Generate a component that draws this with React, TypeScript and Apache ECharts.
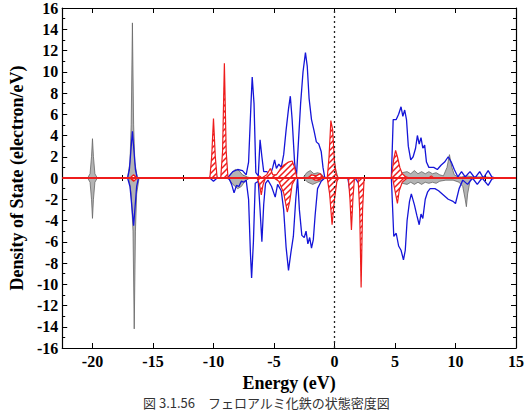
import React, { useEffect, useRef } from "react";
import * as echarts from "echarts";

const xMajorTicks = [-20, -15, -10, -5, 0, 5, 10, 15];
const xMinorTicks = [-17.5, -12.5, -7.5, -2.5, 2.5, 7.5, 12.5];

const grayUp: [number, number][] = [
  [-20.4, 0], [-20.2, 0.4], [-20.08, 2.0], [-20, 3.7], [-19.92, 2.0], [-19.8, 0.4], [-19.6, 0],
  [-17.1, 0], [-16.9, 1.5], [-16.8, 5], [-16.7, 14.6], [-16.6, 5], [-16.5, 1.5], [-16.3, 0],
  [-8.8, 0], [-8.5, 0.5], [-8.2, 0.8], [-7.9, 0.7], [-7.6, 0.3], [-7.2, 0.1], [-6.9, 0],
  [-5.6, 0], [-5.3, 0.3], [-5.0, 0.2], [-4.6, 0.4], [-4.3, 0],
  [-2.6, 0], [-2.3, 0.5], [-2.0, 0.7], [-1.7, 0.4], [-1.4, 0.5], [-1.1, 0.4], [-0.9, 0.1],
  [-0.5, 0], [-0.3, 2.0], [-0.1, 2.4], [0.1, 0.8], [0.3, 0],
  [4.8, 0], [5.2, 1.0], [5.6, 0.5], [6.0, 0.6], [6.3, 0.4], [6.6, 0.7], [6.9, 0.4], [7.2, 0.6],
  [7.5, 0.4], [7.8, 0.6], [8.1, 0.4], [8.4, 0.5], [8.7, 0.3], [9.0, 0.2], [9.3, 1.0], [9.5, 2.2],
  [9.7, 1.0], [9.9, 0.3], [10.2, 0.1], [10.5, 0.1], [10.9, 0.2], [11.5, 0.1], [12.5, 0.1], [13.3, 0],
];

const grayDown: [number, number][] = [
  [-20.4, 0], [-20.2, -0.4], [-20.08, -2.0], [-20, -3.8], [-19.92, -2.0], [-19.8, -0.4], [-19.6, 0],
  [-17.0, 0], [-16.8, -1.5], [-16.65, -5], [-16.55, -14.2], [-16.45, -5], [-16.35, -1.5], [-16.15, 0],
  [-8.8, 0], [-8.4, -0.6], [-8.0, -1.0], [-7.7, -0.8], [-7.4, -0.3], [-7.0, 0],
  [-6.3, 0], [-6.0, -1.0], [-5.8, 0],
  [-2.6, 0], [-2.2, -0.4], [-1.8, -0.6], [-1.4, -0.4], [-1.0, -0.2], [-0.8, 0],
  [4.8, 0], [5.3, -0.8], [5.6, -0.5], [6.0, -0.6], [6.3, -0.4], [6.6, -0.6], [6.9, -0.4], [7.2, -0.6],
  [7.5, -0.4], [7.8, -0.5], [8.1, -0.4], [8.4, -0.5], [8.7, -0.3], [9.2, -0.2], [9.8, -0.2],
  [10.3, -0.4], [10.6, -0.8], [10.8, -2.0], [10.9, -2.7], [11.0, -1.5], [11.2, -0.3], [11.5, 0],
];

const blueUp: [number, number][] = [
  [-20.5, 0], [-17.1, 0], [-16.95, 0.8], [-16.7, 4.4], [-16.45, 0.8], [-16.3, 0],
  [-10.3, 0], [-10.15, 0.6], [-10.0, 1.0], [-9.85, 0.6], [-9.7, 0], [-9.3, 0], [-9.1, 0.4], [-8.9, 0],
  [-8.7, 0.2], [-8.4, 0.6], [-8.0, 0.8], [-7.6, 0.7], [-7.3, 0.3], [-7.1, 1.5], [-6.9, 7], [-6.8, 9.5],
  [-6.65, 7], [-6.5, 0.5], [-6.3, 0.2], [-6.15, 3.6], [-6.0, 2.0], [-5.85, 0.6], [-5.6, 0.6], [-5.3, 0.3],
  [-5.1, 1.0], [-4.95, 1.7], [-4.8, 0.9], [-4.6, 1.3], [-4.4, 1.0], [-4.2, 2.2], [-4.0, 4.5], [-3.8, 6.5],
  [-3.65, 7.7], [-3.5, 5.5], [-3.3, 1.5], [-3.15, 0], [-3.0, 3], [-2.8, 7], [-2.6, 10], [-2.4, 11.8],
  [-2.25, 10.5], [-2.1, 7.5], [-1.9, 5.5], [-1.7, 4.5], [-1.5, 3.4], [-1.3, 3.2], [-1.1, 2.5], [-0.95, 1.0],
  [-0.8, 0], [-0.55, 0], [-0.4, 1.5], [-0.25, 2.6], [-0.1, 2.2], [0.05, 0.5], [0.2, 0],
  [4.7, 0], [4.85, 5.5], [5.1, 5.5], [5.3, 6.0], [5.5, 6.7], [5.65, 5.8], [5.8, 6.4], [5.95, 5.5],
  [6.1, 3.0], [6.3, 1.7], [6.5, 2.0], [6.7, 2.8], [6.85, 4.0], [7.0, 3.2], [7.15, 3.8], [7.3, 2.8],
  [7.45, 3.1], [7.6, 1.5], [7.8, 1.0], [8.2, 1.0], [8.5, 0.8], [8.8, 1.2], [9.1, 1.5], [9.4, 2.0],
  [9.65, 1.5], [9.9, 0.8], [10.2, 0.1], [10.5, 0.6], [10.8, 0.1], [11.2, 0.6], [11.6, 0], [12.0, 0.6],
  [12.3, 0], [12.7, 0.7], [13.0, 0.1], [13.3, 0],
];

const blueDown: [number, number][] = [
  [-20.5, 0], [-17.1, 0], [-16.9, -0.8], [-16.6, -4.5], [-16.35, -0.8], [-16.2, 0],
  [-10.3, 0], [-10.0, -0.3], [-9.7, 0],
  [-8.9, 0], [-8.7, -0.1], [-8.5, -0.6], [-8.3, -1.4], [-8.1, -0.7], [-7.9, -0.8], [-7.7, -0.3],
  [-7.5, -0.4], [-7.3, -0.2], [-7.1, -2], [-6.95, -7], [-6.85, -9.4], [-6.7, -6], [-6.55, -0.5],
  [-6.3, -0.3], [-6.15, -3], [-6.0, -6.0], [-5.85, -2.5], [-5.7, -0.5], [-5.5, -0.2], [-5.2, -0.8],
  [-4.9, -1.8], [-4.7, -0.6], [-4.4, -1.2], [-4.2, -3], [-4.0, -6.5], [-3.8, -8.7], [-3.6, -7],
  [-3.4, -5.5], [-3.2, -2], [-3.05, 0], [-2.9, -3], [-2.7, -5.4], [-2.5, -5.6], [-2.35, -5.0],
  [-2.2, -6.2], [-2.05, -5.6], [-1.9, -6.6], [-1.75, -5.8], [-1.6, -3.5], [-1.4, -1.0], [-1.1, -0.3],
  [-0.8, 0], [-0.5, 0], [-0.3, -2.0], [-0.1, -2.5], [0.1, -0.5], [0.3, 0],
  [1.1, 0], [1.3, -1.4], [1.5, -0.4], [1.7, 0], [2.0, -0.5], [2.2, -1.2], [2.4, 0],
  [4.7, 0], [4.9, -5.5], [5.1, -5.2], [5.3, -6.4], [5.5, -6.8], [5.7, -7.7], [5.85, -6.8], [6.0, -4.0],
  [6.2, -2.2], [6.35, -1.5], [6.6, -2.5], [6.8, -3.5], [7.0, -4.4], [7.15, -3.4], [7.3, -3.8],
  [7.5, -2.0], [7.7, -1.3], [7.9, -1.0], [8.3, -1.0], [8.6, -1.2], [9.0, -1.6], [9.4, -2.0],
  [9.8, -2.2], [10.0, -2.4], [10.3, -1.0], [10.6, -0.2], [11.0, -0.6], [11.4, 0], [11.8, -0.6],
  [12.2, 0], [12.7, -0.7], [13.0, -0.1], [13.3, 0],
];

const redUp: [number, number][] = [
  [-16.9, 0], [-16.6, 0.3], [-16.3, 0],
  [-10.3, 0], [-10.15, 2.0], [-10.0, 5.6], [-9.85, 2.0], [-9.7, 0], [-9.4, 0], [-9.25, 2.5],
  [-9.1, 10.8], [-8.95, 2.5], [-8.8, 0],
  [-6.4, 0], [-6.2, 0.2], [-6.0, 0], [-5.6, 0.3], [-5.3, 0.9], [-5.1, 0.3], [-4.8, 0.3], [-4.5, 0.8],
  [-4.2, 1.2], [-3.8, 1.5], [-3.5, 1.6], [-3.3, 1.0], [-3.1, 0], [-2.2, 0], [-1.9, 0.3], [-1.5, 0.2],
  [-1.2, 0.4], [-0.9, 0], [-0.6, 0], [-0.45, 2], [-0.3, 5.4], [-0.15, 4.5], [0.0, 1.5], [0.15, 0.3],
  [0.3, 0], [4.7, 0], [4.9, 1.8], [5.05, 2.6], [5.2, 2.0], [5.4, 1.0], [5.6, 0.4], [5.9, 0.1],
  [6.2, 0], [7.8, 0], [8.0, 0.2], [8.2, 0],
];

const redDown: [number, number][] = [
  [-16.9, 0], [-16.6, -0.3], [-16.3, 0],
  [-6.4, 0], [-6.2, -0.6], [-6.05, -1.6], [-5.9, -0.6], [-5.7, 0], [-5.0, 0], [-4.6, -0.3],
  [-4.2, -1.4], [-3.9, -3.2], [-3.7, -2.2], [-3.5, -0.6], [-3.2, 0], [-1.9, 0], [-1.6, -0.2],
  [-1.3, -0.2], [-1.0, 0], [-0.6, 0], [-0.4, -1.5], [-0.2, -4.4], [0.0, -2], [0.2, -0.3], [0.35, 0],
  [1.15, 0], [1.28, -2], [1.4, -4.9], [1.52, -2], [1.65, 0], [1.95, 0], [2.08, -3], [2.2, -10.3],
  [2.32, -3], [2.45, 0], [4.8, 0], [5.0, -1.2], [5.2, -2.4], [5.35, -1.2], [5.6, -0.4], [6.0, 0],
];

const zeroLine: [number, number][] = [[-22.5, 0], [15, 0]];

const FONT = "Liberation Serif";
const RED = "#ee1c1c";
const BLUE = "#1515d8";

function makeHatch() {
  const c = document.createElement("canvas");
  c.width = 6;
  c.height = 6;
  const ctx = c.getContext("2d")!;
  ctx.fillStyle = "#ffffff";
  ctx.fillRect(0, 0, 6, 6);
  ctx.strokeStyle = RED;
  ctx.lineWidth = 1.5;
  ctx.beginPath();
  ctx.moveTo(-1, 7);
  ctx.lineTo(7, -1);
  ctx.moveTo(-4, 4);
  ctx.lineTo(4, -4);
  ctx.moveTo(2, 10);
  ctx.lineTo(10, 2);
  ctx.stroke();
  return c;
}

export default function App() {
  const ref = useRef<HTMLDivElement>(null);
  useEffect(() => {
    if (!ref.current) return;
    const chart = echarts.init(ref.current, null, { renderer: "svg" });
    const hatch = { image: makeHatch(), repeat: "repeat" };
    const xBase = {
      type: "value",
      min: -22.5,
      max: 15,
      splitLine: { show: false },
    };
    const grayS = (data: [number, number][]) => ({
      type: "line",
      data,
      symbol: "none",
      lineStyle: { color: "#666", width: 0.8 },
      areaStyle: { color: "#b4b4b4", opacity: 1, origin: 0 },
      z: 2,
    });
    const blueS = (data: [number, number][]) => ({
      type: "line",
      data,
      symbol: "none",
      lineStyle: { color: BLUE, width: 1.3 },
      z: 3,
    });
    const redS = (data: [number, number][]) => ({
      type: "line",
      data,
      symbol: "none",
      lineStyle: { color: RED, width: 1.2 },
      areaStyle: { color: hatch, opacity: 1, origin: 0 },
      z: 4,
    });
    const labelStyle = { fontFamily: FONT, fontWeight: "bold", color: "#000" };
    chart.setOption({
      animation: false,
      grid: { left: 53, right: 10, top: 8, bottom: 62, containLabel: false },
      xAxis: [
        {
          ...xBase,
          position: "bottom",
          name: "Energy (eV)",
          nameLocation: "middle",
          nameGap: 23,
          nameTextStyle: { ...labelStyle, fontSize: 18, lineHeight: 18 },
          axisLine: { show: true, onZero: false, lineStyle: { color: "#000", width: 1.2 } },
          axisTick: { show: true, inside: true, length: 5, customValues: xMajorTicks, lineStyle: { color: "#000" } },
          axisLabel: { ...labelStyle, customValues: xMajorTicks, fontSize: 16, margin: 5 },
        },
        {
          ...xBase,
          position: "bottom",
          axisLine: { show: false },
          axisTick: { show: true, inside: true, length: 3, customValues: xMinorTicks, lineStyle: { color: "#000" } },
          axisLabel: { show: false },
        },
        {
          ...xBase,
          position: "top",
          axisLine: { show: true, onZero: false, lineStyle: { color: "#000", width: 1.2 } },
          axisTick: { show: true, inside: true, length: 5, customValues: xMajorTicks, lineStyle: { color: "#000" } },
          axisLabel: { show: false },
        },
        {
          ...xBase,
          position: "top",
          axisLine: { show: false },
          axisTick: { show: true, inside: true, length: 3, customValues: xMinorTicks, lineStyle: { color: "#000" } },
          axisLabel: { show: false },
        },
      ],
      yAxis: [
        {
          type: "value",
          min: -16,
          max: 16,
          interval: 2,
          position: "left",
          name: "Density of State (electron/eV)",
          nameLocation: "middle",
          nameGap: 31,
          nameRotate: 90,
          nameTextStyle: { ...labelStyle, fontSize: 18 },
          splitLine: { show: false },
          axisLine: { show: true, onZero: false, lineStyle: { color: "#000", width: 1.2 } },
          axisTick: { show: true, inside: true, length: 5, lineStyle: { color: "#000" } },
          minorTick: { show: true, splitNumber: 2, length: 3, lineStyle: { color: "#000" } },
          axisLabel: { ...labelStyle, fontSize: 16, margin: 4 },
        },
        {
          type: "value",
          min: -16,
          max: 16,
          interval: 2,
          position: "right",
          splitLine: { show: false },
          axisLine: { show: true, onZero: false, lineStyle: { color: "#000", width: 1.2 } },
          axisTick: { show: true, inside: true, length: 5, lineStyle: { color: "#000" } },
          minorTick: { show: true, splitNumber: 2, length: 3, lineStyle: { color: "#000" } },
          axisLabel: { show: false },
        },
      ],
      series: [
        grayS(grayUp),
        grayS(grayDown),
        blueS(blueUp),
        blueS(blueDown),
        redS(redUp),
        redS(redDown),
        {
          type: "line",
          data: zeroLine,
          symbol: "none",
          lineStyle: { color: RED, width: 2 },
          z: 5,
          markLine: {
            silent: true,
            symbol: "none",
            label: { show: false },
            lineStyle: { color: "#222", type: [2, 3], width: 1.3 },
            data: [{ xAxis: 0 }],
          },
        },
      ],
      graphic: [
        {
          type: "text",
          left: 143,
          top: 395,
          style: {
            text: "図 3.1.56　フェロアルミ化鉄の状態密度図",
            font: "13px 'Noto Sans CJK JP'",
            lineHeight: 14,
            fill: "#333",
          },
        },
      ],
    });
    return () => chart.dispose();
  }, []);
  return <div ref={ref} style={{ width: 527, height: 410, position: "absolute", left: 0, top: 0 }} />;
}
